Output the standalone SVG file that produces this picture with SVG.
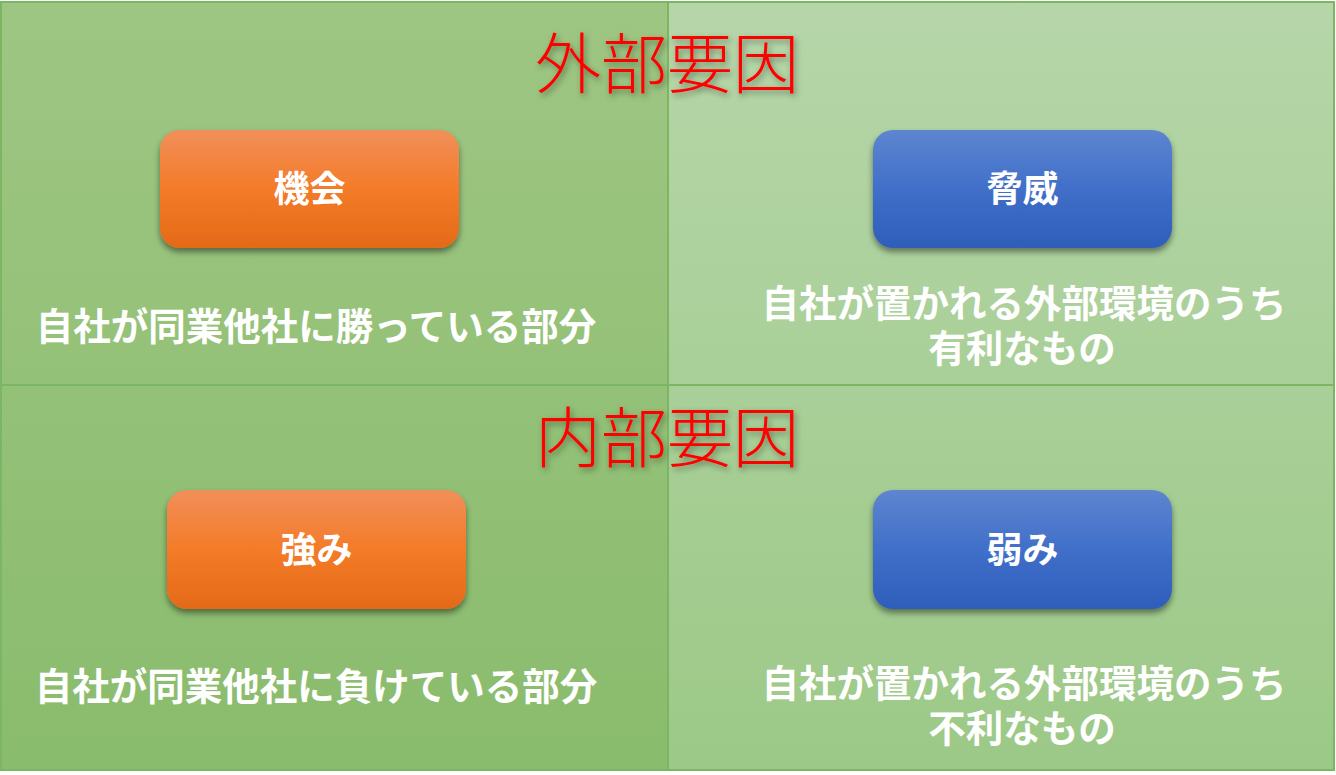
<svg xmlns="http://www.w3.org/2000/svg" width="1336" height="775" viewBox="0 0 1336 775">
<defs>
<linearGradient id="gL" x1="0" y1="0" x2="0" y2="1">
<stop offset="0" stop-color="#9EC683"/>
<stop offset="1" stop-color="#8ABC6D"/>
</linearGradient>
<linearGradient id="gR" x1="0" y1="0" x2="0" y2="1">
<stop offset="0" stop-color="#B6D6A9"/>
<stop offset="1" stop-color="#9CC987"/>
</linearGradient>
<linearGradient id="gO" x1="0" y1="0" x2="0" y2="1">
<stop offset="0" stop-color="#F18F5A"/>
<stop offset="0.5" stop-color="#F47B28"/>
<stop offset="1" stop-color="#E46A18"/>
</linearGradient>
<linearGradient id="gB" x1="0" y1="0" x2="0" y2="1">
<stop offset="0" stop-color="#5E85D0"/>
<stop offset="0.5" stop-color="#406FC9"/>
<stop offset="1" stop-color="#2D5EBA"/>
</linearGradient>
<filter id="sh" x="-10%" y="-10%" width="120%" height="130%">
<feDropShadow dx="0" dy="4" stdDeviation="3" flood-color="#000" flood-opacity="0.45"/>
</filter>
<filter id="tsh" x="-10%" y="-20%" width="120%" height="140%">
<feDropShadow dx="2" dy="3" stdDeviation="3" flood-color="#000" flood-opacity="0.4"/>
</filter>
</defs>
<style>
.lbl{font-family:"Noto Sans CJK JP","Noto Sans CJK SC",sans-serif;font-weight:bold;font-size:36px;fill:#fff;text-anchor:middle}
.desc{font-family:"Noto Sans CJK JP","Noto Sans CJK SC",sans-serif;font-weight:bold;font-size:37.5px;fill:#fff;text-anchor:middle}
.title{font-family:"Noto Sans CJK JP","Noto Sans CJK SC",sans-serif;font-weight:300;font-size:66px;fill:#FF0000;text-anchor:middle}
.line{stroke:#7DB663;stroke-width:2;fill:none}
</style>
<g id="background">
<rect x="1" y="2" width="667" height="768" fill="url(#gL)"/>
<rect x="668" y="2" width="666" height="768" fill="url(#gR)"/>
<rect x="1" y="2" width="1333" height="768" class="line"/>
<line x1="668" y1="2" x2="668" y2="770" class="line"/>
<line x1="1" y1="385" x2="1334" y2="385" class="line"/>
</g>
<g id="title-external">
<text class="title" x="667" y="88" filter="url(#tsh)">外部要因</text>
</g>
<g id="title-internal">
<text class="title" x="667" y="462" filter="url(#tsh)">内部要因</text>
</g>
<g id="node-opportunity">
<rect x="160" y="130" width="299" height="118" rx="20" fill="url(#gO)" filter="url(#sh)"/>
<text class="lbl" x="309.5" y="202">機会</text>
</g>
<g id="node-threat">
<rect x="873" y="130" width="299" height="118" rx="20" fill="url(#gB)" filter="url(#sh)"/>
<text class="lbl" x="1022.5" y="202">脅威</text>
</g>
<g id="node-strength">
<rect x="167" y="490" width="299" height="119" rx="20" fill="url(#gO)" filter="url(#sh)"/>
<text class="lbl" x="316.5" y="563">強み</text>
</g>
<g id="node-weakness">
<rect x="873" y="490" width="299" height="119" rx="20" fill="url(#gB)" filter="url(#sh)"/>
<text class="lbl" x="1022.5" y="563">弱み</text>
</g>
<g id="desc-opportunity">
<text class="desc" x="316" y="340">自社が同業他社に勝っている部分</text>
</g>
<g id="desc-threat">
<text class="desc"><tspan x="1024" y="317">自社が置かれる外部環境のうち</tspan><tspan x="1022" y="362">有利なもの</tspan></text>
</g>
<g id="desc-strength">
<text class="desc" x="316" y="700">自社が同業他社に負けている部分</text>
</g>
<g id="desc-weakness">
<text class="desc"><tspan x="1024" y="697">自社が置かれる外部環境のうち</tspan><tspan x="1022" y="742">不利なもの</tspan></text>
</g>
<g id="connectors"/>
</svg>
